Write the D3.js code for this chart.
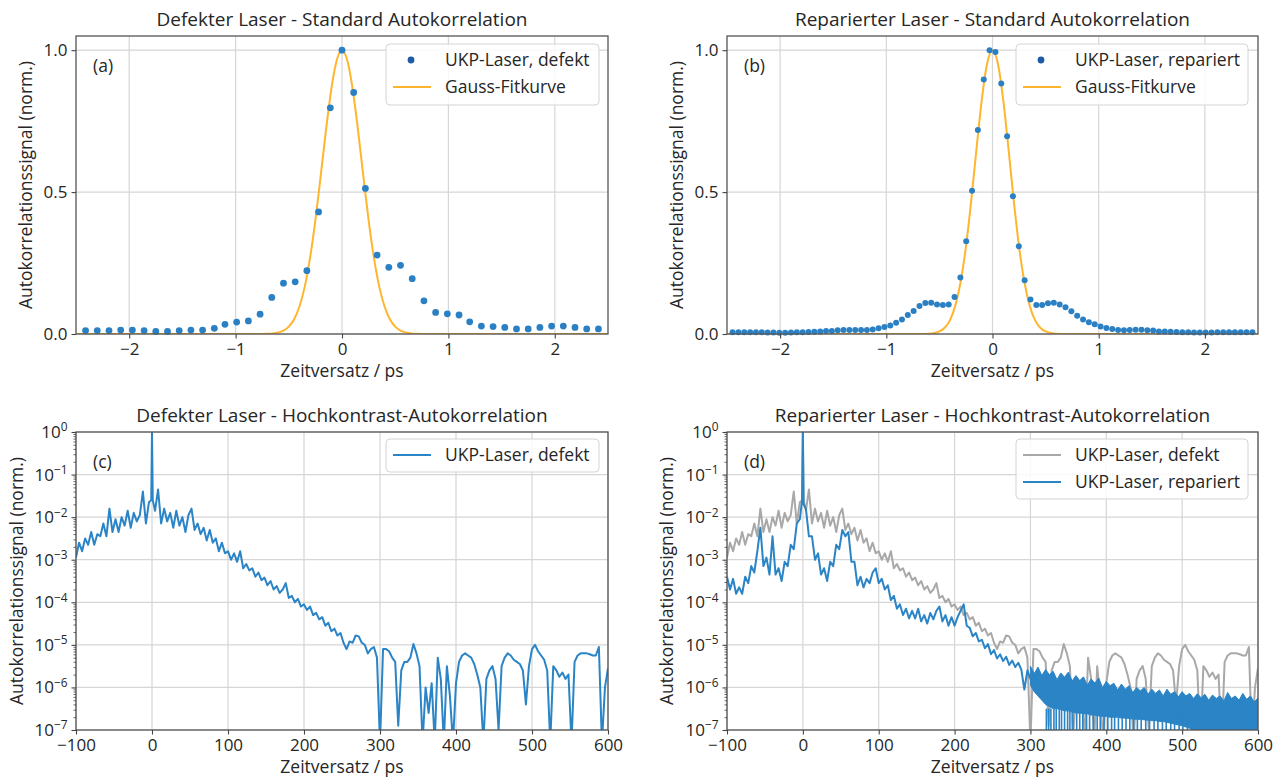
<!DOCTYPE html>
<html>
<head>
<meta charset="utf-8">
<script src="https://cdn.jsdelivr.net/npm/d3@7"></script>
<style>
  body { margin: 0; background: #fff; }
</style>
</head>
<body>
<div id="chart"></div>
<script>
// ---- data -------------------------------------------------------------
// standard autocorrelation: [delay / ps, normalised signal]
const stdDefekt = [
  [-2.41,0.012],[-2.30,0.012],[-2.19,0.012],[-2.08,0.014],[-1.97,0.014],[-1.86,0.012],
  [-1.75,0.009],[-1.64,0.009],[-1.53,0.012],[-1.42,0.014],[-1.31,0.014],[-1.20,0.020],
  [-1.10,0.034],[-0.99,0.042],[-0.88,0.046],[-0.77,0.070],[-0.66,0.129],[-0.55,0.179],
  [-0.44,0.184],[-0.33,0.223],[-0.22,0.430],[-0.11,0.797],[0,1.0],
  [0.11,0.851],[0.22,0.513],[0.33,0.278],[0.44,0.235],[0.55,0.242],[0.66,0.195],
  [0.77,0.117],[0.88,0.076],[0.99,0.071],[1.10,0.067],[1.20,0.043],[1.31,0.028],
  [1.42,0.026],[1.53,0.023],[1.64,0.018],[1.75,0.018],[1.86,0.023],[1.97,0.028],
  [2.08,0.028],[2.19,0.023],[2.30,0.018],[2.41,0.018]
];
const fitDefekt = [
  [-2.5,0],[-1.0,0],[-0.8,0.0001],[-0.7,0.0008],[-0.65,0.0021],[-0.6,0.0052],[-0.55,0.012],
  [-0.5,0.026],[-0.45,0.052],[-0.4,0.097],[-0.35,0.167],[-0.3,0.269],[-0.25,0.401],
  [-0.2,0.558],[-0.15,0.720],[-0.1,0.864],[-0.05,0.964],[0,1.0],
  [0.05,0.964],[0.1,0.864],[0.15,0.720],[0.2,0.558],[0.25,0.401],[0.3,0.269],[0.35,0.167],
  [0.4,0.097],[0.45,0.052],[0.5,0.026],[0.55,0.012],[0.6,0.0052],[0.65,0.0021],
  [0.7,0.0008],[0.8,0.0001],[1.0,0],[2.5,0]
];
const stdRepariert = [
  [-2.4475,0.006],[-2.3925,0.006],[-2.3375,0.006],[-2.2825,0.006],[-2.2275,0.006],[-2.1725,0.006],
  [-2.1175,0.005],[-2.0625,0.005],[-2.0075,0.004],[-1.9525,0.004],[-1.8975,0.005],[-1.8425,0.006],
  [-1.7875,0.006],[-1.7325,0.007],[-1.6775,0.008],[-1.6225,0.009],[-1.5675,0.011],[-1.5125,0.011],
  [-1.4575,0.013],[-1.4025,0.014],[-1.3475,0.014],[-1.2925,0.014],[-1.2375,0.014],[-1.1825,0.014],
  [-1.1275,0.016],[-1.0725,0.020],[-1.0175,0.025],[-0.9625,0.030],[-0.9075,0.040],[-0.8525,0.051],
  [-0.7975,0.067],[-0.7425,0.081],[-0.6875,0.099],[-0.6325,0.109],[-0.5775,0.110],[-0.5225,0.104],
  [-0.4675,0.102],[-0.4125,0.104],[-0.3575,0.130],[-0.3025,0.199],[-0.2475,0.327],[-0.1925,0.505],
  [-0.1375,0.719],[-0.0825,0.897],[-0.0275,1.0],[0.0275,0.994],[0.0825,0.883],[0.1375,0.697],
  [0.1925,0.485],[0.2475,0.309],[0.3025,0.189],[0.3575,0.122],[0.4125,0.102],[0.4675,0.102],
  [0.5225,0.108],[0.5775,0.110],[0.6325,0.104],[0.6875,0.094],[0.7425,0.080],[0.7975,0.064],
  [0.8525,0.051],[0.9075,0.041],[0.9625,0.034],[1.0175,0.026],[1.0725,0.021],[1.1275,0.018],
  [1.1825,0.014],[1.2375,0.013],[1.2925,0.014],[1.3475,0.015],[1.4025,0.015],[1.4575,0.013],
  [1.5125,0.012],[1.5675,0.009],[1.6225,0.009],[1.6775,0.008],[1.7325,0.007],[1.7875,0.006],
  [1.8425,0.006],[1.8975,0.005],[1.9525,0.005],[2.0075,0.005],[2.0625,0.005],[2.1175,0.006],
  [2.1725,0.006],[2.2275,0.006],[2.2825,0.006],[2.3375,0.006],[2.3925,0.006],[2.4475,0.006]
];
const fitRepariert = [
  [-2.5,0],[-0.8,0],[-0.7,0.0001],[-0.6,0.0011],[-0.55,0.0034],[-0.5,0.009],[-0.45,0.022],
  [-0.4,0.049],[-0.35,0.100],[-0.3,0.184],[-0.25,0.308],[-0.2,0.471],[-0.15,0.655],
  [-0.1,0.828],[-0.05,0.954],[0,1.0],[0.05,0.954],[0.1,0.828],[0.15,0.655],[0.2,0.471],
  [0.25,0.308],[0.3,0.184],[0.35,0.100],[0.4,0.049],[0.45,0.022],[0.5,0.009],[0.55,0.0034],
  [0.6,0.0011],[0.7,0.0001],[0.8,0],[2.5,0]
];

// high-contrast autocorrelation: [delay / ps, log10 of normalised signal]
const hkDefekt = [
  [-100,-2.95],[-96,-2.6],[-92,-2.8],[-88,-2.5],[-84,-2.65],[-80,-2.35],[-76,-2.65],[-72,-2.4],
  [-68,-2.45],[-64,-2.15],[-60,-2.45],[-56,-1.8],[-52,-2.35],[-48,-2.05],[-44,-2.35],[-40,-2.0],
  [-36,-2.2],[-32,-1.85],[-28,-2.25],[-24,-1.9],[-20,-2.1],[-16,-1.95],[-12,-1.4],[-8,-2.15],
  [-4,-1.65],[-1,-1.6],[0,0],[1,-1.6],[4,-1.85],[8,-1.35],[12,-2.15],[16,-1.8],[20,-2.1],
  [24,-1.9],[28,-2.25],[32,-1.85],[36,-2.2],[40,-2.0],[44,-2.35],[48,-1.95],[52,-1.8],[56,-2.3],
  [60,-2.15],[64,-2.4],[68,-2.25],[72,-2.55],[76,-2.3],[80,-2.6],[84,-2.5],[88,-2.8],
  [92,-2.6],[96,-2.85],[100,-2.8],[104,-3.0],[108,-2.85],[112,-3.05],[116,-2.8],[120,-3.2],
  [124,-3.1],[128,-3.25],[132,-3.2],[136,-3.4],[140,-3.3],[144,-3.48],[148,-3.42],[152,-3.6],
  [156,-3.5],[160,-3.7],[164,-3.62],[168,-3.78],[172,-3.7],[176,-3.55],[180,-3.9],[184,-3.85],
  [188,-4.0],[192,-3.92],[196,-4.1],[200,-4.05],[204,-4.18],[208,-4.1],[212,-4.3],[216,-4.25],
  [220,-4.4],[224,-4.35],[228,-4.55],[232,-4.48],[236,-4.68],[240,-4.62],[244,-4.78],[248,-4.72],
  [252,-4.95],[256,-5.1],[260,-4.92],[264,-4.95],[268,-4.78],[272,-4.8],[276,-4.95],[280,-5.0],
  [284,-5.2],[288,-5.1],[292,-5.05],[296,-5.3],[300,-7.3],[304,-5.1],[308,-5.1],[312,-5.15],
  [316,-5.3],[320,-5.4],[324,-6.9],[328,-5.6],[332,-5.4],[336,-5.4],[340,-5.3],[344,-4.98],
  [348,-5.2],[352,-5.5],[356,-7.3],[360,-6.0],[364,-6.6],[368,-5.9],[372,-7.3],[376,-5.3],
  [380,-5.8],[384,-7.3],[388,-5.5],[392,-6.2],[396,-7.3],[400,-5.9],[404,-5.4],[408,-5.25],
  [412,-5.2],[416,-5.25],[420,-5.3],[424,-5.45],[428,-5.7],[432,-6.0],[436,-7.3],[440,-5.8],
  [444,-5.6],[448,-5.5],[452,-5.8],[456,-7.0],[460,-5.5],[464,-5.3],[468,-5.2],[472,-5.25],
  [476,-5.35],[480,-5.4],[484,-5.45],[488,-5.6],[492,-6.4],[496,-5.5],[500,-5.1],[504,-5.0],
  [508,-5.15],[512,-5.25],[516,-5.35],[520,-5.6],[524,-7.3],[528,-5.5],[532,-5.6],[536,-5.75],
  [540,-5.65],[544,-5.8],[548,-5.7],[552,-7.3],[556,-5.4],[560,-5.25],[564,-5.2],[568,-5.2],
  [572,-5.2],[576,-5.22],[580,-5.25],[584,-5.25],[588,-5.05],[592,-7.3],[596,-6.0],[600,-5.55]
];
const hkRepariert = [
  [-100,-3.4],[-96,-3.7],[-92,-3.45],[-88,-3.8],[-84,-3.65],[-80,-3.8],[-76,-3.4],[-72,-3.55],
  [-68,-3.15],[-64,-3.3],[-60,-2.8],[-56,-2.25],[-52,-3.15],[-48,-2.95],[-44,-3.35],[-40,-2.45],
  [-36,-3.35],[-32,-3.2],[-28,-3.5],[-24,-3.05],[-20,-3.15],[-16,-2.65],[-12,-2.75],[-8,-2.15],
  [-4,-2.05],[-1,-1.6],[0,0],[1,-1.7],[4,-1.8],[8,-2.45],[12,-2.45],[16,-3.0],[20,-2.85],
  [24,-3.35],[28,-3.2],[32,-3.5],[36,-3.05],[40,-3.15],[44,-2.65],[48,-2.75],[52,-2.3],
  [56,-2.45],[60,-2.35],[64,-3.05],[68,-3.05],[72,-3.6],[76,-3.4],[80,-3.65],[84,-3.45],
  [88,-3.55],[92,-3.3],[96,-3.2],[100,-3.55],[104,-3.45],[108,-3.7],[112,-3.6],[116,-3.95],
  [120,-3.85],[124,-4.15],[128,-4.05],[132,-4.3],[136,-4.15],[140,-4.38],[144,-4.2],[148,-4.38],
  [152,-4.15],[156,-4.45],[160,-4.3],[164,-4.5],[168,-4.25],[172,-4.4],[176,-4.2],[180,-4.1],
  [184,-4.45],[188,-4.3],[192,-4.55],[196,-4.35],[200,-4.55],[204,-4.35],[208,-4.2],[212,-4.05],
  [216,-4.55],[220,-4.6],[224,-4.8],[228,-4.72],[232,-4.92],[236,-4.88],[240,-5.08],[244,-4.98],
  [248,-5.22],[252,-5.12],[256,-5.32],[260,-5.22],[264,-5.38],[268,-5.28],[272,-5.47],[276,-5.37],
  [280,-5.52],[284,-5.42],[288,-5.58],[292,-6.05],[296,-5.6],[300,-5.8],[304,-5.65],[308,-5.9],
  [312,-5.75],[316,-6.0],[320,-5.85]
];
// noise floor of the repaired laser: [delay / ps, log10 upper edge, log10 lower edge]
const hkRepBand = [
  [300,-5.5,-5.95],[305,-5.68,-6.1],[310,-5.52,-6.2],[315,-5.72,-6.3],[320,-5.58,-6.4],
  [325,-5.7,-6.45],[330,-5.62,-6.5],[335,-5.82,-6.5],[340,-5.66,-6.52],[345,-5.76,-6.55],
  [350,-5.64,-6.55],[355,-5.85,-6.58],[360,-5.72,-6.6],[365,-5.84,-6.6],[370,-5.75,-6.62],
  [375,-5.95,-6.62],[380,-5.8,-6.65],[385,-5.9,-6.65],[390,-5.78,-6.67],[395,-6.0,-6.68],
  [400,-5.86,-6.68],[405,-5.96,-6.7],[410,-5.9,-6.7],[415,-6.06,-6.7],[420,-5.92,-6.72],
  [425,-6.04,-6.72],[430,-5.96,-6.73],[435,-6.12,-6.74],[440,-6.0,-6.75],[445,-6.08,-6.75],
  [450,-6.0,-6.76],[455,-6.16,-6.77],[460,-6.04,-6.78],[465,-6.14,-6.78],[470,-6.06,-6.8],
  [475,-6.2,-6.8],[480,-6.04,-6.82],[485,-6.16,-6.84],[490,-6.1,-6.86],[495,-6.22,-6.88],
  [500,-6.1,-6.9],[505,-6.2,-6.93],[510,-6.14,-6.96],[515,-6.26,-7.0],[520,-6.15,-7.03],
  [525,-6.24,-7.06],[530,-6.16,-7.1],[535,-6.3,-7.14],[540,-6.18,-7.18],[545,-6.26,-7.22],
  [550,-6.2,-7.26],[555,-6.32,-7.3],[560,-6.12,-7.3],[565,-6.26,-7.3],[570,-6.2,-7.3],
  [575,-6.3,-7.3],[580,-6.14,-7.3],[585,-6.28,-7.3],[590,-6.2,-7.3],[595,-6.34,-7.3],[600,-6.25,-7.3]
];
// delays where the repaired signal drops below the lower axis limit
const hkRepDips = [321,324,327,331,334,338,341,345,349,352,356,361,365,369,374,378,383,388,392,397,
  402,407,411,416,421,426,431,436,441,446,452,457,463,468,474,479,485,490,496,501,507,512,518];

const stdTicksX = [-2, -1, 0, 1, 2];
const stdTicksY = [0, 0.5, 1.0];
const hkTicksX = [-100, 0, 100, 200, 300, 400, 500, 600];
const hkTicksY = [1, 1e-1, 1e-2, 1e-3, 1e-4, 1e-5, 1e-6, 1e-7];

// ---- drawing ----------------------------------------------------------
const FONT = '"Open Sans", sans-serif';
const BLUE = "#2a84c6", DOT = "#2b80c4", ORANGE = "#ffb52e", GRAY = "#a8a8a8", TXT = "#262626";
const FS = 17.5;

const svg = d3.select("#chart").append("svg")
  .attr("width", 1279).attr("height", 779)
  .style("font-family", FONT);

const boxes = {
  a: {l: 76, t: 36, r: 608, b: 334},
  b: {l: 727, t: 36, r: 1258, b: 334},
  c: {l: 76, t: 432, r: 608, b: 730},
  d: {l: 727, t: 432, r: 1258, b: 730}
};

const minus = d => d < 0 ? "\u2212" + (-d) : String(d);

function panel(key, x, y, xTicks, yTicks) {
  const bx = boxes[key];
  const g = svg.append("g");
  g.append("clipPath").attr("id", "clip-" + key)
    .append("rect").attr("x", bx.l).attr("y", bx.t)
    .attr("width", bx.r - bx.l).attr("height", bx.b - bx.t);
  const grid = g.append("g").attr("stroke", "#d6d6d6").attr("stroke-width", 1.2);
  grid.selectAll(".gx").data(xTicks).join("line").attr("class", "gx")
    .attr("x1", d => x(d)).attr("x2", d => x(d)).attr("y1", bx.t).attr("y2", bx.b);
  grid.selectAll(".gy").data(yTicks).join("line").attr("class", "gy")
    .attr("x1", bx.l).attr("x2", bx.r).attr("y1", d => y(d)).attr("y2", d => y(d));
  const plot = g.append("g").attr("clip-path", `url(#clip-${key})`);
  return {g, plot, bx};
}

function styleAxis(ax) {
  ax.select(".domain").remove();
  ax.attr("font-family", FONT).attr("font-size", 17);
  ax.selectAll(".tick line").attr("stroke", "#444").attr("stroke-width", 1.1);
  ax.selectAll(".tick text").attr("fill", TXT);
}

function frame(p, x, xTicks, title, tag, ylabelX) {
  const bx = p.bx;
  p.g.append("rect").attr("x", bx.l).attr("y", bx.t)
    .attr("width", bx.r - bx.l).attr("height", bx.b - bx.t)
    .attr("fill", "none").attr("stroke", "#555").attr("stroke-width", 1.3);
  const ax = p.g.append("g").attr("transform", `translate(0,${bx.b})`)
    .call(d3.axisBottom(x).tickValues(xTicks).tickFormat(minus).tickSize(4.5).tickPadding(4));
  styleAxis(ax);
  const cx = (bx.l + bx.r) / 2;
  p.g.append("text").attr("x", cx).attr("y", bx.t - 10).attr("text-anchor", "middle")
    .attr("font-size", 19).attr("fill", TXT).text(title);
  p.g.append("text").attr("x", cx).attr("y", bx.b + 43).attr("text-anchor", "middle")
    .attr("font-size", FS).attr("fill", TXT).text("Zeitversatz / ps");
  p.g.append("text")
    .attr("transform", `translate(${ylabelX},${(bx.t + bx.b) / 2}) rotate(-90)`)
    .attr("text-anchor", "middle").attr("dy", "0.35em")
    .attr("font-size", FS).attr("fill", TXT).text("Autokorrelationssignal (norm.)");
  p.g.append("text").attr("x", bx.l + 17).attr("y", bx.t + 30).attr("dy", "0.35em")
    .attr("font-size", FS).attr("fill", TXT).text(tag);
}

function linearY(p, y) {
  const ay = p.g.append("g").attr("transform", `translate(${p.bx.l},0)`)
    .call(d3.axisLeft(y).tickValues(stdTicksY).tickFormat(d3.format(".1f")).tickSize(4.5).tickPadding(4));
  styleAxis(ay);
}

function logY(p, y) {
  const ay = p.g.append("g").attr("transform", `translate(${p.bx.l},0)`)
    .call(d3.axisLeft(y).tickValues(hkTicksY).tickFormat(() => "10").tickSize(4.5).tickPadding(4));
  styleAxis(ay);
  ay.selectAll(".tick text").append("tspan")
    .attr("dy", "-0.55em").attr("font-size", "0.7em")
    .text(d => minus(Math.round(Math.log10(d))));
  const minors = [];
  for (let e = -7; e < 0; e++) for (let m = 2; m <= 9; m++) minors.push(m * Math.pow(10, e));
  const am = p.g.append("g").attr("transform", `translate(${p.bx.l},0)`)
    .call(d3.axisLeft(y).tickValues(minors).tickFormat("").tickSize(2.5));
  styleAxis(am);
  am.selectAll(".tick line").attr("stroke-width", 0.8);
}

function legend(p, bx, rows) {
  const g = p.g.append("g");
  g.append("rect").attr("x", bx.x).attr("y", bx.y).attr("width", bx.w).attr("height", bx.h)
    .attr("rx", 4).attr("fill", "#fff").attr("fill-opacity", 0.85)
    .attr("stroke", "#d4d4d4").attr("stroke-width", 1);
  rows.forEach((r, i) => {
    const cy = bx.y + 16 + i * 27;
    if (r.kind === "dot") {
      g.append("circle").attr("cx", bx.x + 25).attr("cy", cy).attr("r", 3.4).attr("fill", r.color);
    } else {
      g.append("line").attr("x1", bx.x + 7).attr("x2", bx.x + 45).attr("y1", cy).attr("y2", cy)
        .attr("stroke", r.color).attr("stroke-width", 2.2);
    }
    g.append("text").attr("x", bx.x + 59).attr("y", cy).attr("dy", "0.35em")
      .attr("font-size", FS).attr("fill", TXT).text(r.label);
  });
}

// (a) and (b): standard autocorrelation
function stdPanel(key, pts, fit, r, title, tag, ylabelX, legBox, legLabel) {
  const bx = boxes[key];
  const x = d3.scaleLinear().domain([-2.5, 2.5]).range([bx.l, bx.r]);
  const y = d3.scaleLinear().domain([0, 1.05]).range([bx.b, bx.t]);
  const p = panel(key, x, y, stdTicksX, stdTicksY);
  p.plot.append("path").datum(fit)
    .attr("fill", "none").attr("stroke", ORANGE).attr("stroke-width", 2)
    .attr("d", d3.line().x(d => x(d[0])).y(d => y(d[1])).curve(d3.curveMonotoneX));
  p.g.append("g").selectAll("circle").data(pts).join("circle")
    .attr("cx", d => x(d[0])).attr("cy", d => y(d[1])).attr("r", r).attr("fill", DOT);
  frame(p, x, stdTicksX, title, tag, ylabelX);
  linearY(p, y);
  legend(p, legBox, [
    {kind: "dot", color: "#1f5ba5", label: legLabel},
    {kind: "line", color: ORANGE, label: "Gauss-Fitkurve"}
  ]);
}

stdPanel("a", stdDefekt, fitDefekt, 3.4, "Defekter Laser - Standard Autokorrelation", "(a)", 26,
  {x: 386, y: 44, w: 213, h: 61}, "UKP-Laser, defekt");
stdPanel("b", stdRepariert, fitRepariert, 3.0, "Reparierter Laser - Standard Autokorrelation", "(b)", 677,
  {x: 1016, y: 44, w: 232, h: 61}, "UKP-Laser, repariert");

// (c) and (d): high-contrast autocorrelation, log scale
function hkScales(key) {
  const bx = boxes[key];
  return {
    x: d3.scaleLinear().domain([-100, 600]).range([bx.l, bx.r]),
    y: d3.scaleLog().domain([1e-7, 1]).range([bx.b, bx.t])
  };
}

{
  const {x, y} = hkScales("c");
  const p = panel("c", x, y, hkTicksX, hkTicksY);
  p.plot.append("path").datum(hkDefekt)
    .attr("fill", "none").attr("stroke", BLUE).attr("stroke-width", 2).attr("stroke-linejoin", "round")
    .attr("d", d3.line().x(d => x(d[0])).y(d => y(Math.pow(10, d[1]))));
  frame(p, x, hkTicksX, "Defekter Laser - Hochkontrast-Autokorrelation", "(c)", 17);
  logY(p, y);
  legend(p, {x: 386, y: 439, w: 213, h: 33}, [{kind: "line", color: BLUE, label: "UKP-Laser, defekt"}]);
}

{
  const {x, y} = hkScales("d");
  const p = panel("d", x, y, hkTicksX, hkTicksY);
  const ly = v => y(Math.pow(10, v));
  p.plot.append("path").datum(hkDefekt)
    .attr("fill", "none").attr("stroke", GRAY).attr("stroke-width", 2).attr("stroke-linejoin", "round")
    .attr("d", d3.line().x(d => x(d[0])).y(d => ly(d[1])));
  p.plot.append("path").datum(hkRepBand)
    .attr("fill", BLUE).attr("stroke", BLUE).attr("stroke-width", 1)
    .attr("d", d3.area().x(d => x(d[0])).y0(d => ly(d[2])).y1(d => ly(d[1])));
  p.plot.append("g").selectAll("line").data(hkRepDips).join("line")
    .attr("x1", d => x(d)).attr("x2", d => x(d))
    .attr("y1", d => ly(-6.5)).attr("y2", d => ly(-7.3))
    .attr("stroke", BLUE).attr("stroke-width", 1.6);
  p.plot.append("path").datum(hkRepariert)
    .attr("fill", "none").attr("stroke", BLUE).attr("stroke-width", 2).attr("stroke-linejoin", "round")
    .attr("d", d3.line().x(d => x(d[0])).y(d => ly(d[1])));
  frame(p, x, hkTicksX, "Reparierter Laser - Hochkontrast-Autokorrelation", "(d)", 667);
  logY(p, y);
  legend(p, {x: 1016, y: 439, w: 232, h: 60}, [
    {kind: "line", color: GRAY, label: "UKP-Laser, defekt"},
    {kind: "line", color: BLUE, label: "UKP-Laser, repariert"}
  ]);
}
</script>
</body>
</html>
